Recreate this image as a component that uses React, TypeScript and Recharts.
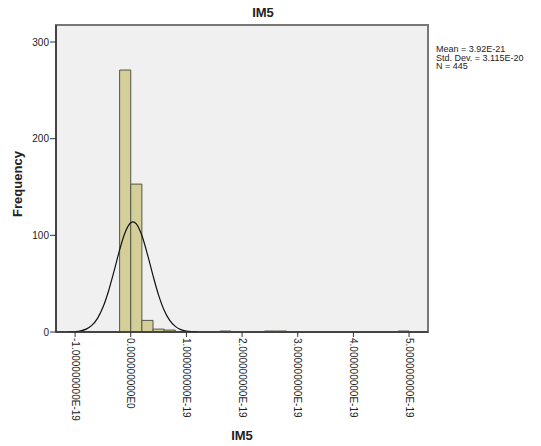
import React from "react";
import {
  ComposedChart,
  Line,
  ReferenceArea,
  XAxis,
  YAxis,
} from "recharts";

// x values are in units of 1E-19
const binStarts = [-0.2, 0, 0.2, 0.4, 0.6, 1.6, 2.4, 2.6, 4.8];
const binCounts = [271, 153, 12, 3, 2, 1, 1, 1, 1];
const binWidth = 0.2;

// normal curve
const curveX = [
  -1.12, -1.0, -0.9, -0.8, -0.7, -0.6, -0.5, -0.4, -0.3, -0.2, -0.1, 0, 0.04, 0.1,
  0.2, 0.3, 0.4, 0.5, 0.6, 0.7, 0.8, 0.9, 1.0, 1.1, 1.2,
];
const curveY = [
  0.1, 0.4, 1.2, 3, 6.8, 13.9, 25.5, 42.2, 63, 84.9, 103.2, 113.1, 114, 111.9,
  99.8, 80.3, 58.3, 38.2, 22.5, 12, 5.8, 2.5, 1, 0.35, 0.1,
];

const xTicks = [-1, 0, 1, 2, 3, 4, 5];
const yTicks = [0, 100, 200, 300];
const xDomain: [number, number] = [-1.343, 5.34];
const yDomain: [number, number] = [0, 317.6];

const statLines = ["Mean = 3.92E-21", "Std. Dev. = 3.115E-20", "N = 445"];

const FONT = "Arial, 'Liberation Sans', sans-serif";

const curveData = curveX.map((x, i) => ({ x, y: curveY[i] }));

function formatX(v: number) {
  if (v === 0) return "0.000000000E0";
  return `${v.toFixed(9)}E-19`;
}

function RotatedTick(props: any) {
  const { x, y, payload } = props;
  return (
    <text
      x={x}
      y={y}
      transform={`rotate(90 ${x} ${y})`}
      textAnchor="start"
      dominantBaseline="central"
      fontSize={10}
      fontFamily={FONT}
      fill="#222"
    >
      {formatX(Number(payload.value))}
    </text>
  );
}

export default function App() {
  return (
    <div style={{ position: "relative", width: 541, height: 446, background: "#fff" }}>
      <style>{`body{margin:0}`}</style>
      <ComposedChart
        width={541}
        height={446}
        data={curveData}
        margin={{ top: 25, right: 113, left: 0, bottom: 0 }}
      >
        <XAxis
          type="number"
          dataKey="x"
          domain={xDomain}
          ticks={xTicks}
          allowDataOverflow
          interval={0}
          height={114}
          tickSize={5}
          tickMargin={1}
          tick={<RotatedTick />}
          axisLine={{ stroke: "#333", strokeWidth: 1.5 }}
          tickLine={{ stroke: "#333" }}
        />
        <YAxis
          type="number"
          domain={yDomain}
          ticks={yTicks}
          allowDataOverflow
          width={56}
          tickSize={6}
          tickMargin={1}
          tick={{ fontSize: 10, fontFamily: FONT, fill: "#222" }}
          axisLine={{ stroke: "#333", strokeWidth: 1.5 }}
          tickLine={{ stroke: "#333" }}
        />
        <ReferenceArea
          x1={xDomain[0]}
          x2={xDomain[1]}
          y1={yDomain[0]}
          y2={yDomain[1]}
          fill="#f0f0f0"
          fillOpacity={1}
          stroke="none"
          ifOverflow="visible"
        />
        {binStarts.map((start, i) => (
          <ReferenceArea
            key={i}
            x1={start}
            x2={start + binWidth}
            y1={0}
            y2={binCounts[i]}
            fill="#d4cf98"
            fillOpacity={1}
            stroke="#55554a"
            strokeWidth={1}
            ifOverflow="visible"
          />
        ))}
        <Line
          type="monotone"
          dataKey="y"
          stroke="#111"
          strokeWidth={1.2}
          dot={false}
          isAnimationActive={false}
        />
        <ReferenceArea
          x1={xDomain[0]}
          x2={xDomain[1]}
          y1={yDomain[0]}
          y2={yDomain[1]}
          fill="none"
          stroke="#777"
          strokeWidth={2}
          ifOverflow="visible"
        />
      </ComposedChart>
      <svg
        width={541}
        height={446}
        style={{ position: "absolute", left: 0, top: 0, pointerEvents: "none" }}
      >
        <text
          x={263}
          y={17}
          textAnchor="middle"
          fontSize={13}
          fontWeight="bold"
          fontFamily={FONT}
          fill="#222"
        >
          IM5
        </text>
        {statLines.map((s, i) => (
          <text
            key={s}
            x={436}
            y={52 + i * 8.5}
            fontSize={9}
            fontFamily={FONT}
            fill="#222"
          >
            {s}
          </text>
        ))}
        <text
          x={22}
          y={184}
          transform="rotate(-90 22 184)"
          textAnchor="middle"
          fontSize={13}
          fontWeight="bold"
          fontFamily={FONT}
          fill="#222"
        >
          Frequency
        </text>
        <text
          x={242}
          y={440}
          textAnchor="middle"
          fontSize={13}
          fontWeight="bold"
          fontFamily={FONT}
          fill="#222"
        >
          IM5
        </text>
      </svg>
    </div>
  );
}
